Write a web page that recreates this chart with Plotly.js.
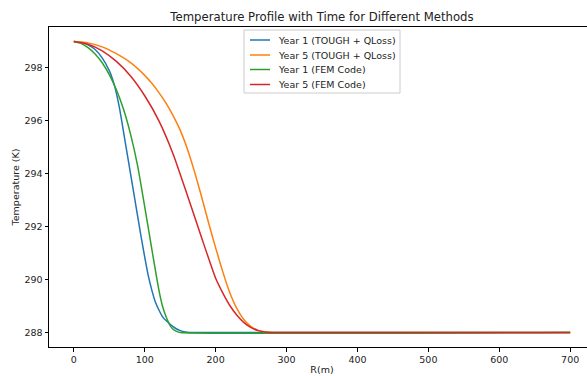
<!DOCTYPE html>
<html>
<head>
<meta charset="utf-8">
<script src="https://cdn.plot.ly/plotly-3.0.1.min.js"></script>
<style>
html,body{margin:0;padding:0;overflow:hidden;background:#fff;}
#chart{width:600px;height:376px;}
</style>
</head>
<body>
<div id="chart"></div>
<script>
// Year 1 (TOUGH + QLoss)
const y1ToughR = [0,10,20,30,40,50,55,60,65,70,75,80,85,90,95,100,105,110,115,120,125,130,135,140,145,150,155,160,170,700];
const y1ToughT = [299.0,298.97,298.88,298.7,298.38,297.9,297.55,297.05,296.4,295.6,294.8,294.0,293.2,292.4,291.6,290.85,290.15,289.6,289.15,288.85,288.6,288.45,288.33,288.22,288.13,288.07,288.03,288.01,288.0,288.0];
// Year 5 (TOUGH + QLoss)
const y5ToughR = [0,20,40,60,80,100,110,120,130,140,150,160,170,180,190,200,210,220,230,240,250,260,270,280,700];
const y5ToughT = [299.0,298.95,298.8,298.54,298.2,297.72,297.42,297.07,296.67,296.2,295.65,294.95,294.1,293.15,292.15,291.2,290.3,289.5,288.9,288.48,288.22,288.08,288.02,288.0,288.0];
// Year 1 (FEM Code)
const y1FemR = [0,10,20,30,40,50,60,70,80,90,100,110,120,125,130,135,140,145,150,700];
const y1FemT = [299.0,298.93,298.77,298.53,298.2,297.75,297.18,296.45,295.5,294.3,292.75,291.15,289.6,289.0,288.6,288.3,288.12,288.04,288.0,288.0];
// Year 5 (FEM Code)
const y5FemR = [0,20,40,60,80,100,120,140,160,180,200,210,220,230,240,250,260,270,285,700];
const y5FemT = [299.0,298.9,298.65,298.25,297.7,296.95,296.0,294.75,293.2,291.6,290.05,289.5,289.02,288.65,288.37,288.18,288.07,288.02,288.0,288.0];

const seriesNames = ['Year 1 (TOUGH + QLoss)','Year 5 (TOUGH + QLoss)','Year 1 (FEM Code)','Year 5 (FEM Code)'];
const xTicks = [0,100,200,300,400,500,600,700];
const yTicks = [288,290,292,294,296,298];

const colors = ['#1f77b4','#ff7f0e','#2ca02c','#d62728'];
const xs = [y1ToughR,y5ToughR,y1FemR,y5FemR];
const ys = [y1ToughT,y5ToughT,y1FemT,y5FemT];

const traces = xs.map((x,i)=>({
  x:x, y:ys[i], type:'scatter', mode:'lines', name:seriesNames[i],
  line:{color:colors[i], width:1.5, shape:'spline', smoothing:0.5}
}));

const font = {family:'DejaVu Sans, sans-serif', size:9.5, color:'#222'};

// plot area in pixels
const PL=49, PR=595, PT=27, PB=347;
const px = v => (v-PL)/(PR-PL);
const py = v => (PB-v)/(PB-PT);

// custom legend (matplotlib style)
const shapes = [{type:'rect', xref:'paper', yref:'paper', x0:px(244), x1:px(400), y0:py(93), y1:py(30),
  fillcolor:'rgba(255,255,255,0.8)', line:{color:'#cccccc', width:1}, layer:'above'}];
const annotations = [];
const rowY = [40,55,69.5,84.5];
seriesNames.forEach((n,i)=>{
  shapes.push({type:'line', xref:'paper', yref:'paper', x0:px(250), x1:px(270), y0:py(rowY[i]), y1:py(rowY[i]),
    line:{color:colors[i], width:1.5}, layer:'above'});
  annotations.push({xref:'paper', yref:'paper', x:px(276), y:py(rowY[i]), xanchor:'left', yanchor:'middle',
    text:n, showarrow:false, font:font});
});

const layout = {
  width:600, height:376,
  margin:{l:PL, r:600-PR, t:PT, b:376-PB, pad:0},
  paper_bgcolor:'#fff', plot_bgcolor:'#fff',
  font:font,
  showlegend:false,
  shapes:shapes,
  annotations:annotations,
  title:{text:'Temperature Profile with Time for Different Methods', font:{family:'DejaVu Sans, sans-serif', size:11.7, color:'#222'}, xref:'paper', x:0.5, xanchor:'center', yref:'container', y:1-17/376, yanchor:'middle'},
  xaxis:{range:[-35,735], tickvals:xTicks, ticktext:xTicks.map(String), showgrid:false, zeroline:false,
    showline:true, linecolor:'#000', linewidth:1, mirror:true, ticks:'outside', ticklen:3.5, tickwidth:1, tickcolor:'#000',
    tickfont:font, automargin:false,
    title:{text:'R(m)', font:font, standoff:2}},
  yaxis:{range:[287.45,299.55], tickvals:yTicks, ticktext:yTicks.map(String), showgrid:false, zeroline:false,
    showline:true, linecolor:'#000', linewidth:1, mirror:true, ticks:'outside', ticklen:3.5, tickwidth:1, tickcolor:'#000',
    tickfont:font, automargin:false,
    title:{text:'Temperature (K)', font:font, standoff:3}}
};

Plotly.newPlot('chart', traces, layout, {displayModeBar:false, staticPlot:true});
</script>
</body>
</html>
